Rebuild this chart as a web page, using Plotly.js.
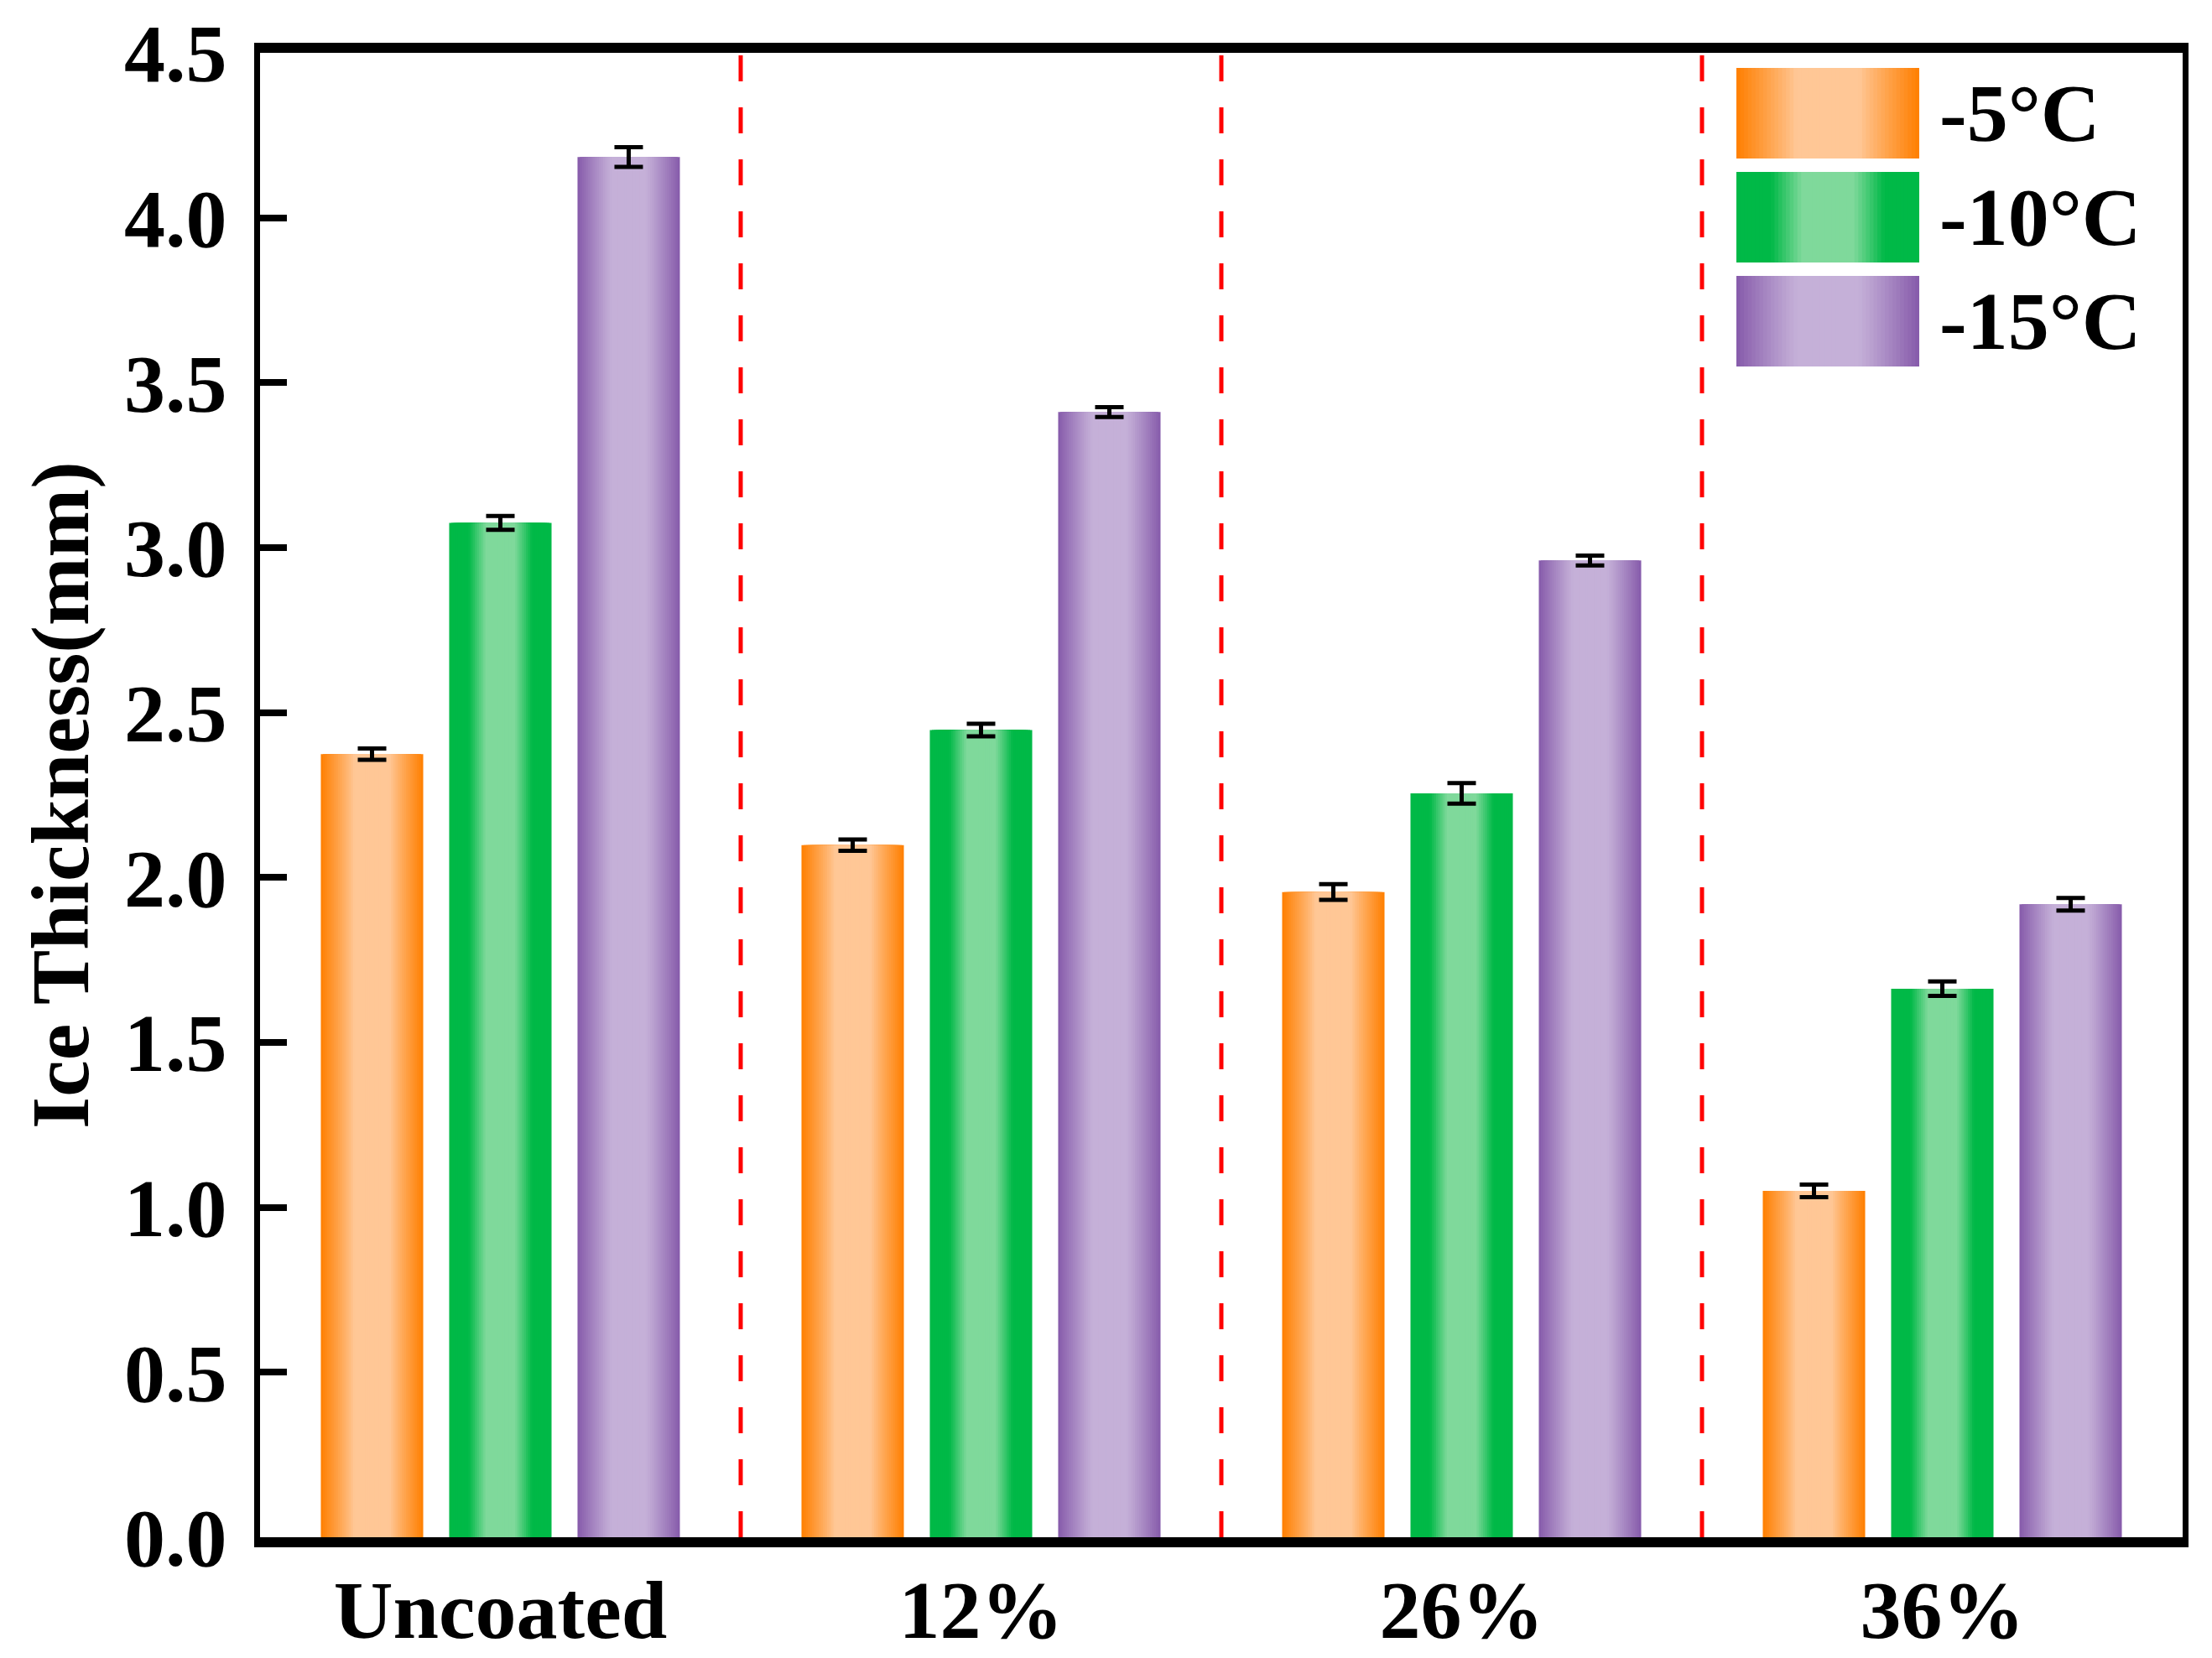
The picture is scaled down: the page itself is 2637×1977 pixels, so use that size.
<!DOCTYPE html>
<html>
<head>
<meta charset="utf-8">
<script src="https://cdn.plot.ly/plotly-3.0.1.min.js"></script>
<style>html,body{margin:0;padding:0;background:#fff;}</style>
</head>
<body>
<div id="iceChart" style="width:2637px;height:1977px;"></div>
<script>
// Ice thickness for each coating at three freezing temperatures
var coatings = ['Uncoated', '12%', '26%', '36%'];
var temps = ['-5°C', '-10°C', '-15°C'];
var thick5 = [2.374, 2.098, 1.956, 1.050];
var thick10 = [3.075, 2.447, 2.255, 1.663];
var thick15 = [4.184, 3.411, 2.961, 1.919];
var err5 = [0.017, 0.017, 0.024, 0.019];
var err10 = [0.021, 0.019, 0.031, 0.022];
var err15 = [0.030, 0.015, 0.015, 0.019];
var yTicks = [0, 0.5, 1, 1.5, 2, 2.5, 3, 3.5, 4, 4.5];

var values = [thick5, thick10, thick15];
var errors = [err5, err10, err15];

// gradient look of each series: dark edges, light middle
var looks = [
  {dark: [255, 127, 0], light: [255, 199, 150], flat: 0.35, full: 1.0, power: 0.9},
  {dark: [0, 185, 71], light: [127, 217, 155], flat: 0.28, full: 0.62, power: 1.0},
  {dark: [134, 90, 170], light: [197, 176, 216], flat: 0.33, full: 1.0, power: 1.1}
];

function shade(look, d) {
  var t = 0;
  if (d > look.flat) {
    t = Math.min(1, (d - look.flat) / (look.full - look.flat));
    t = Math.pow(t, look.power);
  }
  var c = [];
  for (var j = 0; j < 3; j++) {
    c[j] = Math.round(look.light[j] + (look.dark[j] - look.light[j]) * t);
  }
  return 'rgb(' + c.join(',') + ')';
}

var layers = 24;
var barWidth = 0.213;
var shift = 0.267;
var fontFamily = '"Liberation Serif", "Times New Roman", serif';

var data = [];
for (var s = 0; s < values.length; s++) {
  var xs = [];
  for (var i = 0; i < coatings.length; i++) {
    xs[i] = i + (s - 1) * shift;
  }
  for (var k = 0; k < layers; k++) {
    var frac = 1 - k / layers;
    var trace = {
      type: 'bar',
      x: xs,
      y: values[s],
      width: barWidth * frac,
      name: temps[s],
      marker: {color: shade(looks[s], frac - 0.5 / layers), line: {width: 0}},
      showlegend: false,
      hoverinfo: 'skip'
    };
    if (k == layers - 1) {
      trace.error_y = {
        type: 'data',
        array: errors[s],
        visible: true,
        color: '#000000',
        thickness: 5,
        width: 17
      };
    }
    data.push(trace);
  }
}

// plot area in pixels, used to place the legend boxes
var mL = 310, mR = 35, mT = 63, mB = 144;
var plotW = 2637 - mL - mR;
var plotH = 1977 - mT - mB;
function paperX(px) { return (px - mL) / plotW; }
function paperY(py) { return 1 - (py - mT) / plotH; }

var shapes = [];
// red dashed separators between the coating groups
for (var i = 0; i < coatings.length - 1; i++) {
  shapes.push({
    type: 'line',
    xref: 'x', yref: 'y',
    x0: i + 0.5, x1: i + 0.5,
    y0: 0, y1: yTicks[yTicks.length - 1],
    line: {color: '#FF0000', width: 5, dash: '31px,31px'}
  });
}

// legend swatches with the same gradient
var annotations = [];
var boxLeft = 2070, boxRight = 2288, boxTop = 81, boxH = 108, boxStep = 124;
var boxMid = (boxLeft + boxRight) / 2, boxHalf = (boxRight - boxLeft) / 2;
for (var s = 0; s < temps.length; s++) {
  var rowTop = boxTop + s * boxStep;
  for (var k = 0; k < layers; k++) {
    var frac = 1 - k / layers;
    shapes.push({
      type: 'rect',
      xref: 'paper', yref: 'paper',
      x0: paperX(boxMid - boxHalf * frac), x1: paperX(boxMid + boxHalf * frac),
      y0: paperY(rowTop + boxH), y1: paperY(rowTop),
      fillcolor: shade(looks[s], frac - 0.5 / layers),
      line: {width: 0}
    });
  }
  annotations.push({
    xref: 'paper', yref: 'paper',
    x: paperX(2310), y: paperY(rowTop + boxH / 2),
    xanchor: 'left', yanchor: 'middle',
    text: temps[s],
    showarrow: false,
    font: {family: fontFamily, size: 98, color: '#000', weight: 'bold'}
  });
}

var layout = {
  width: 2637,
  height: 1977,
  margin: {l: mL, r: mR, t: mT, b: mB},
  paper_bgcolor: '#ffffff',
  plot_bgcolor: '#ffffff',
  barmode: 'overlay',
  showlegend: false,
  font: {family: fontFamily, size: 98, color: '#000', weight: 'bold'},
  xaxis: {
    range: [-0.5, coatings.length - 0.5],
    tickvals: [0, 1, 2, 3],
    ticktext: coatings,
    ticks: '',
    showgrid: false,
    zeroline: false,
    showline: true,
    linecolor: '#000',
    linewidth: 12,
    mirror: true,
    ticklabelstandoff: -10,
    tickfont: {family: fontFamily, size: 98, color: '#000', weight: 'bold'}
  },
  yaxis: {
    range: [0, 4.5],
    tickvals: yTicks,
    tickformat: '.1f',
    ticks: 'inside',
    ticklen: 32,
    tickwidth: 8,
    tickcolor: '#000',
    showgrid: false,
    zeroline: false,
    showline: true,
    linecolor: '#000',
    linewidth: 7,
    mirror: true,
    ticklabelstandoff: 13,
    tickfont: {family: fontFamily, size: 98, color: '#000', weight: 'bold'},
    title: {
      text: 'Ice Thickness(mm)',
      standoff: 12,
      font: {family: fontFamily, size: 98, color: '#000', weight: 'bold'}
    }
  },
  shapes: shapes,
  annotations: annotations
};

Plotly.newPlot('iceChart', data, layout, {staticPlot: true, displayModeBar: false});
</script>
</body>
</html>
